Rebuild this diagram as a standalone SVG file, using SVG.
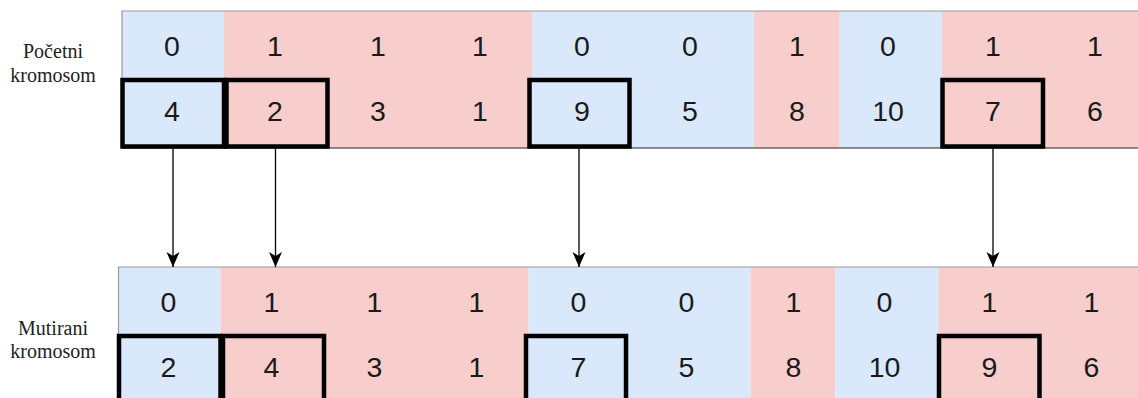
<svg xmlns="http://www.w3.org/2000/svg" width="1138" height="398" viewBox="0 0 1138 398">
  <style>
    .blue { fill: #dae8fc; }
    .pink { fill: #f8cecc; }
    .num { font-family: "Liberation Sans", Arial, sans-serif; font-size: 28.5px; fill: #1a1a1a; text-anchor: middle; }
    .lbl { font-family: "Liberation Serif", "DejaVu Serif", serif; font-size: 20px; fill: #222; text-anchor: middle; }
    .frame { stroke: #999; stroke-width: 1.2; fill: none; }
    .base { stroke: #222; stroke-width: 1.2; fill: none; }
    .sel { fill: none; stroke: #000; stroke-width: 4.5; }
    .conn { stroke: #000; stroke-width: 1.3; fill: none; }
  </style>
  <defs>
    <marker id="arrow" markerUnits="userSpaceOnUse" markerWidth="18" markerHeight="16" refX="15" refY="7" orient="auto">
      <path d="M0,0.5 L15,7 L0,13.5 L4,7 Z" fill="#000"/>
    </marker>
    <g id="chrom-bg">
      <rect class="blue" x="122" y="11" width="102" height="137"/>
      <rect class="pink" x="224" y="11" width="308" height="137"/>
      <rect class="blue" x="532" y="11" width="222" height="137"/>
      <rect class="pink" x="754" y="11" width="85" height="137"/>
      <rect class="blue" x="839" y="11" width="103" height="137"/>
      <rect class="pink" x="942" y="11" width="200" height="137"/>
      <path class="frame" d="M1142,11 H122 V148"/>
      <path class="base" d="M122,148 H1142"/>
    </g>
  </defs>

  <!-- Početni kromosom -->
  <g id="pocetni-kromosom">
    <use href="#chrom-bg"/>
    <g id="pocetni-geni">
      <text class="num" x="172" y="56">0</text>
      <text class="num" x="275" y="56">1</text>
      <text class="num" x="378" y="56">1</text>
      <text class="num" x="480" y="56">1</text>
      <text class="num" x="582" y="56">0</text>
      <text class="num" x="690" y="56">0</text>
      <text class="num" x="797" y="56">1</text>
      <text class="num" x="888" y="56">0</text>
      <text class="num" x="993" y="56">1</text>
      <text class="num" x="1095" y="56">1</text>
    </g>
    <g id="pocetni-redoslijed">
      <text class="num" x="172" y="121">4</text>
      <text class="num" x="275" y="121">2</text>
      <text class="num" x="378" y="121">3</text>
      <text class="num" x="480" y="121">1</text>
      <text class="num" x="582" y="121">9</text>
      <text class="num" x="690" y="121">5</text>
      <text class="num" x="797" y="121">8</text>
      <text class="num" x="888" y="121">10</text>
      <text class="num" x="993" y="121">7</text>
      <text class="num" x="1095" y="121">6</text>
    </g>
    <g id="pocetni-odabrani">
      <rect class="sel" x="122.5" y="80" width="101.5" height="66.5"/>
      <rect class="sel" x="226.5" y="80" width="101" height="66.5"/>
      <rect class="sel" x="529.5" y="80" width="100" height="66.5"/>
      <rect class="sel" x="942.5" y="80" width="100.5" height="66.5"/>
    </g>
  </g>
  <g id="label-pocetni">
    <text class="lbl" x="53" y="58">Početni</text>
    <text class="lbl" x="53" y="81.5">kromosom</text>
  </g>

  <!-- Mutirani kromosom -->
  <g id="mutirani-kromosom" transform="translate(-3.5,256)">
    <use href="#chrom-bg"/>
    <g id="mutirani-geni">
      <text class="num" x="172" y="56">0</text>
      <text class="num" x="275" y="56">1</text>
      <text class="num" x="378" y="56">1</text>
      <text class="num" x="480" y="56">1</text>
      <text class="num" x="582" y="56">0</text>
      <text class="num" x="690" y="56">0</text>
      <text class="num" x="797" y="56">1</text>
      <text class="num" x="888" y="56">0</text>
      <text class="num" x="993" y="56">1</text>
      <text class="num" x="1095" y="56">1</text>
    </g>
    <g id="mutirani-redoslijed">
      <text class="num" x="172" y="121">2</text>
      <text class="num" x="275" y="121">4</text>
      <text class="num" x="378" y="121">3</text>
      <text class="num" x="480" y="121">1</text>
      <text class="num" x="582" y="121">7</text>
      <text class="num" x="690" y="121">5</text>
      <text class="num" x="797" y="121">8</text>
      <text class="num" x="888" y="121">10</text>
      <text class="num" x="993" y="121">9</text>
      <text class="num" x="1095" y="121">6</text>
    </g>
    <g id="mutirani-odabrani">
      <rect class="sel" x="122.5" y="80" width="101.5" height="66.5"/>
      <rect class="sel" x="226.5" y="80" width="101" height="66.5"/>
      <rect class="sel" x="529.5" y="80" width="100" height="66.5"/>
      <rect class="sel" x="942.5" y="80" width="100.5" height="66.5"/>
    </g>
  </g>
  <g id="label-mutirani">
    <text class="lbl" x="53" y="334.5">Mutirani</text>
    <text class="lbl" x="53" y="358">kromosom</text>
  </g>

  <!-- Connectors -->
  <g id="connectors">
    <line class="conn" x1="173" y1="149" x2="173" y2="267" marker-end="url(#arrow)"/>
    <line class="conn" x1="275.5" y1="149" x2="275.5" y2="267" marker-end="url(#arrow)"/>
    <line class="conn" x1="579" y1="149" x2="579" y2="267" marker-end="url(#arrow)"/>
    <line class="conn" x1="993" y1="149" x2="993" y2="267" marker-end="url(#arrow)"/>
  </g>
</svg>
